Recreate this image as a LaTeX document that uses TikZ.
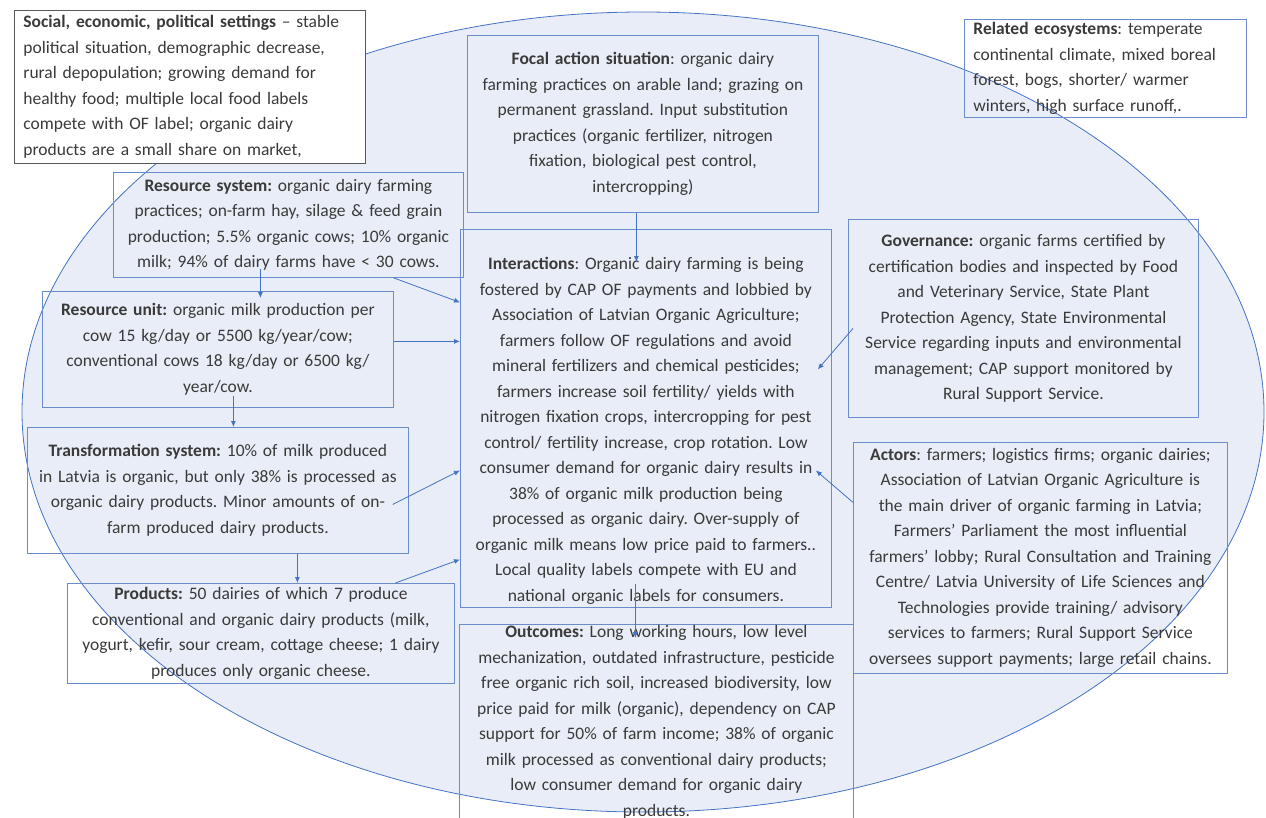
\documentclass[tikz,border=0pt]{standalone}
\usepackage{fontspec}
\setmainfont{Carlito}
\frenchspacing
\usetikzlibrary{arrows.meta}
\definecolor{ellblue}{HTML}{E8EDF7}
\definecolor{lineblue}{HTML}{4472C4}
\definecolor{boxblue}{HTML}{6A8CCB}
\definecolor{txtgray}{HTML}{3A3A3A}
\tikzset{
  panel/.style={draw=boxblue, line width=0.8pt, anchor=north west, align=center,
    inner sep=3pt, text=txtgray, font=\fontsize{17.5}{25.5}\selectfont},
  leftpanel/.style={panel, align=left, inner xsep=9pt},
  conn/.style={->, draw=lineblue, line width=0.8pt},
}

\begin{document}
\begin{tikzpicture}[x=1pt,y=-1pt,>={Latex[length=6pt,width=5pt]}]
  \useasboundingbox (0,0) rectangle (1266,817);
  \draw[lineblue, fill=ellblue, line width=0.8pt] (643,412) ellipse [x radius=621, y radius=400];

  \node[leftpanel, draw=black!65, fill=white, minimum width=351, minimum height=153, text width=333] (social) at (14,10)
    {\textbf{Social, economic, political settings} -- stable\\
     political situation, demographic decrease,\\
     rural depopulation; growing demand for\\
     healthy food; multiple local food labels\\
     compete with OF label; organic dairy\\
     products are a small share on market,};
  \node[panel, minimum width=351, minimum height=177, text width=345] (focal) at (467,35)
    {\textbf{Focal action situation}: organic dairy\\
     farming practices on arable land; grazing on\\
     permanent grassland. Input substitution\\
     practices (organic fertilizer, nitrogen\\
     fixation, biological pest control,\\
     intercropping)};
  \node[leftpanel, minimum width=282, minimum height=98, text width=264] (eco) at (964,19)
    {\textbf{Related ecosystems}: temperate\\
     continental climate, mixed boreal\\
     forest, bogs, shorter/ warmer\\
     winters, high surface runoff,.};
  \node[panel, minimum width=350, minimum height=105, text width=344] (rsys) at (113,172)
    {\textbf{Resource system:} organic dairy farming\\
     practices; on-farm hay, silage \& feed grain\\
     production; 5.5\% organic cows; 10\% organic\\
     milk; 94\% of dairy farms have < 30 cows.};
  \node[panel, minimum width=351, minimum height=116, text width=345] (runit) at (42,291)
    {\textbf{Resource unit:} organic milk production per\\
     cow 15 kg/day or 5500 kg/year/cow;\\
     conventional cows 18 kg/day or 6500 kg/\\
     year/cow.};
  \node[panel, minimum width=381, minimum height=126, text width=375] (trans) at (27,427)
    {\textbf{Transformation system:} 10\% of milk produced\\
     in Latvia is organic, but only 38\% is processed as\\
     organic dairy products. Minor amounts of on-\\
     farm produced dairy products.};
  \node[panel, minimum width=387, minimum height=100, text width=381] (prod) at (67,583)
    {\textbf{Products:} 50 dairies of which 7 produce\\
     conventional and organic dairy products (milk,\\
     yogurt, kefir, sour cream, cottage cheese; 1 dairy\\
     produces only organic cheese.};
  \node[panel, minimum width=371, minimum height=378, text width=365] (inter) at (460,229)
    {\rule{0pt}{37pt}\textbf{Interactions}: Organic dairy farming is being\\
     fostered by CAP OF payments and lobbied by\\
     Association of Latvian Organic Agriculture;\\
     farmers follow OF regulations and avoid\\
     mineral fertilizers and chemical pesticides;\\
     farmers increase soil fertility/ yields with\\
     nitrogen fixation crops, intercropping for pest\\
     control/ fertility increase, crop rotation. Low\\
     consumer demand for organic dairy results in\\
     38\% of organic milk production being\\
     processed as organic dairy. Over-supply of\\
     organic milk means low price paid to farmers..\\
     Local quality labels compete with EU and\\
     national organic labels for consumers.};
  \node[panel, minimum width=350, minimum height=198, text width=344] (gov) at (848,219)
    {\textbf{Governance:} organic farms certified by\\
     certification bodies and inspected by Food\\
     and Veterinary Service, State Plant\\
     Protection Agency, State Environmental\\
     Service regarding inputs and environmental\\
     management; CAP support monitored by\\
     Rural Support Service.};
  \node[panel, minimum width=374, minimum height=231, text width=368] (actors) at (853,442)
    {\textbf{Actors}: farmers; logistics firms; organic dairies;\\
     Association of Latvian Organic Agriculture is\\
     the main driver of organic farming in Latvia;\\
     Farmers’ Parliament the most influential\\
     farmers’ lobby; Rural Consultation and Training\\
     Centre/ Latvia University of Life Sciences and\\
     Technologies provide training/ advisory\\
     services to farmers; Rural Support Service\\
     oversees support payments; large retail chains.};
  \node[panel, inner ysep=0.5pt, minimum width=394, minimum height=196, text width=388] (outc) at (459,624)
    {\textbf{Outcomes:} Long working hours, low level\\
     mechanization, outdated infrastructure, pesticide\\
     free organic rich soil, increased biodiversity, low\\
     price paid for milk (organic), dependency on CAP\\
     support for 50\% of farm income; 38\% of organic\\
     milk processed as conventional dairy products;\\
     low consumer demand for organic dairy\\
     products.};

  \draw[conn] ([xshift=-6.5]focal.south) -- ([xshift=-9.5,yshift=-33]inter.north);
  \draw[conn] ([xshift=-28,yshift=9]rsys.south) -- ([xshift=42.5,yshift=-7]runit.north);
  \draw[conn] ([xshift=15.5,yshift=12]runit.south) -- ([xshift=15.5]trans.north);
  \draw[conn] ([xshift=79.5]trans.south) -- ([xshift=36.5]prod.north);
  \draw[conn] ([xshift=105]rsys.south) -- ([yshift=116]inter.west);
  \draw[conn] ([yshift=8]runit.east) -- ([yshift=77]inter.west);
  \draw[conn] ([xshift=-16,yshift=-14]trans.east) -- ([yshift=-52]inter.west);
  \draw[conn] ([xshift=134.5]prod.north) -- ([yshift=-141]inter.west);
  \draw[conn] ([xshift=5,yshift=-10]gov.west) -- ([xshift=-14,yshift=49]inter.east);
  \draw[conn] ([yshift=55.5]actors.west) -- ([xshift=-16,yshift=-52]inter.east);
  \draw[conn] ([xshift=-10.5,yshift=24]inter.south) -- ([xshift=-21,yshift=-14]outc.north);
\end{tikzpicture}
\end{document}
